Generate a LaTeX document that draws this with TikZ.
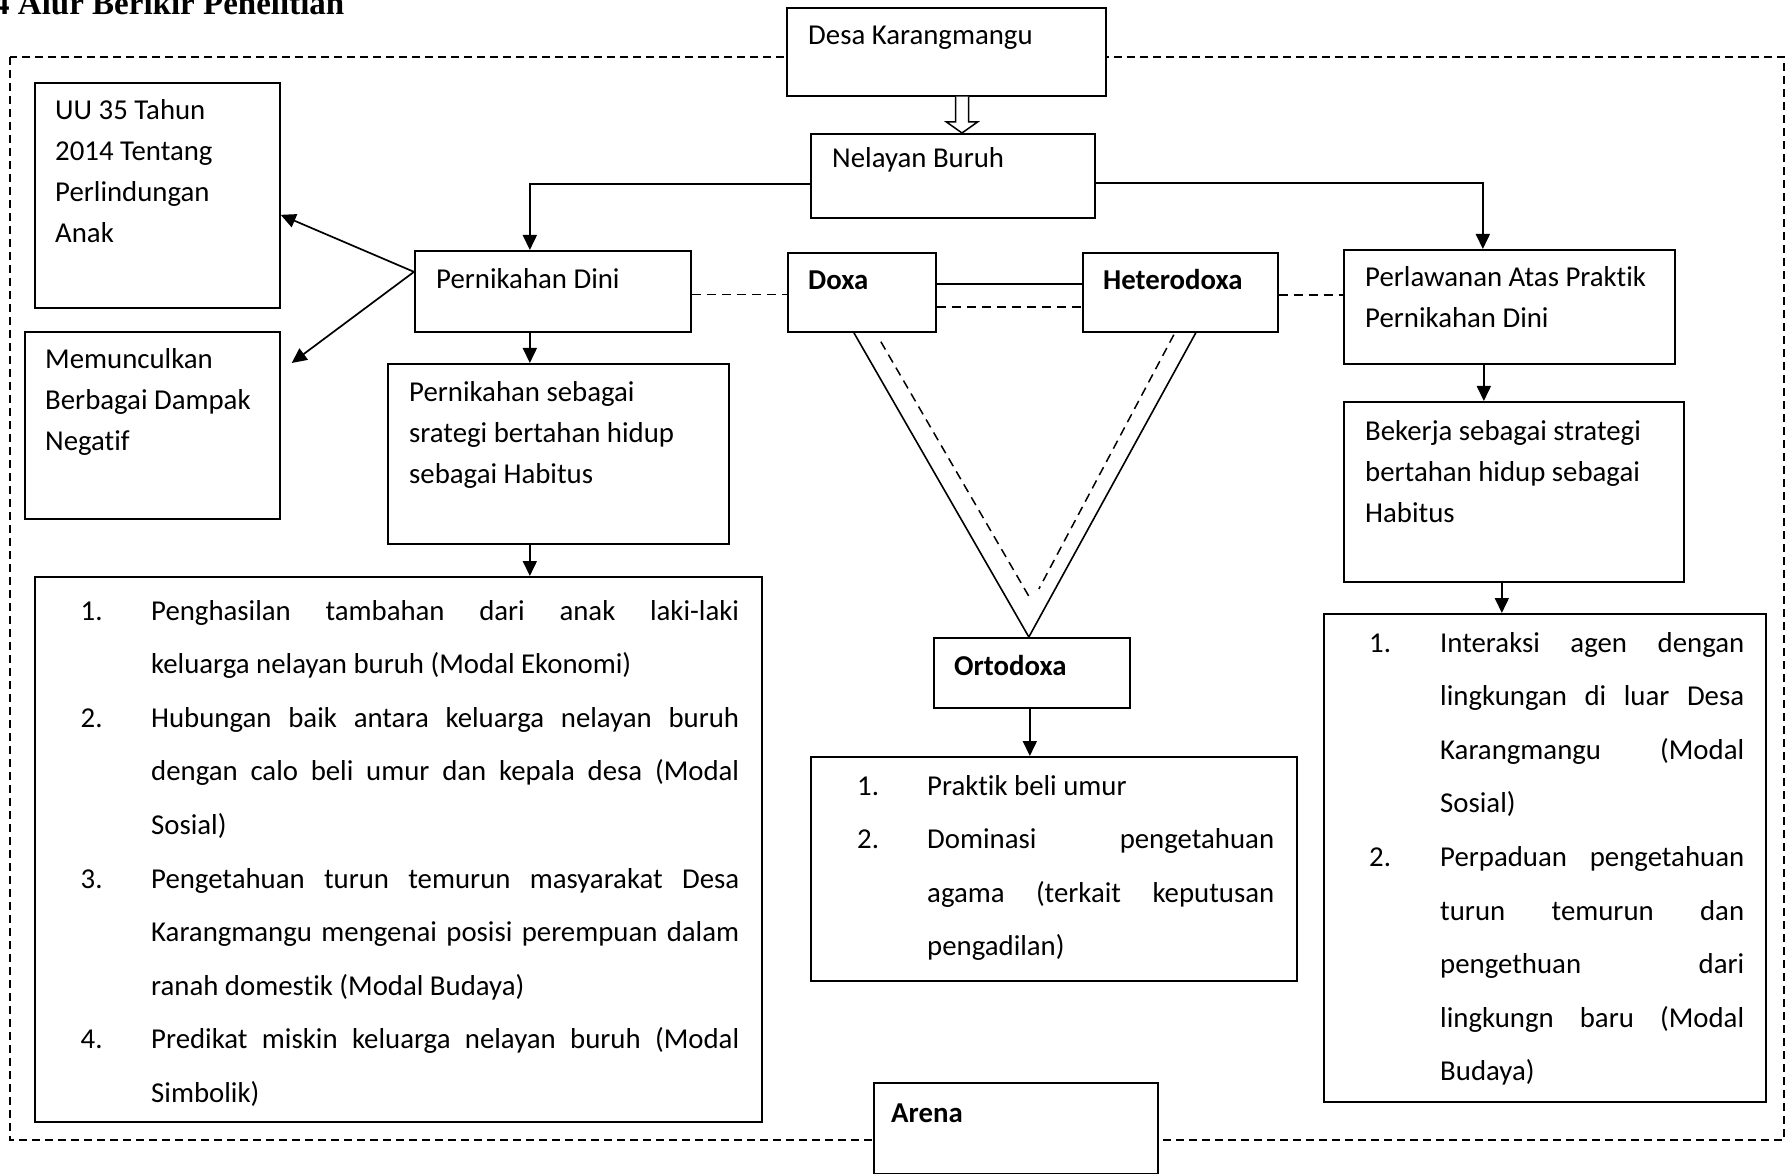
\documentclass[tikz,border=0pt]{standalone}
\usepackage{fontspec}
\setmainfont{Carlito}[RawFeature=-liga, RawFeature=-clig, RawFeature=-calt]
\newfontfamily\titlefont{Liberation Serif}
\usetikzlibrary{arrows.meta,calc}

\newcommand{\ljust}[3]{\hbox{\hspace*{#1}\makebox[#2][s]{#3}}}
\newcommand{\lrag}[2]{\hbox{\hspace*{#1}#2}}
\newcommand{\lnum}[4]{\hbox{\makebox[#1][l]{#2}\makebox[#3][s]{#4}}}
\newcommand{\lnumr}[3]{\hbox{\makebox[#1][l]{#2}#3}}
\newcommand{\plainln}[1]{\hbox{#1}}

\begin{document}
\begin{tikzpicture}[x=1pt,y=-1pt,
  box/.style={draw, fill=white, line width=1.7pt, anchor=north west, inner sep=0pt},
  txt/.style={anchor=base west, inner sep=0pt, font=\fontsize{28.8}{41}\selectfont},
  btxt/.style={anchor=base west, inner sep=0pt, font=\fontsize{28.8}{41}\selectfont\bfseries},
  lst/.style={anchor=base west, inner sep=0pt, font=\fontsize{28.8}{53.6}\selectfont},
  arr/.style={line width=1.7pt, -{Triangle[length=15pt,width=14pt]}},
  link/.style={line width=1.6pt},
  dsh/.style={line width=1.5pt, dash pattern=on 9pt off 6pt},
  frame/.style={line width=1.6pt, dash pattern=on 8pt off 5pt}]

\useasboundingbox (0,0) rectangle (1792,1174);

% title (cut off at the top, as in the source)
\node[anchor=base west, inner sep=0pt, font=\titlefont\bfseries\fontsize{33}{40}\selectfont] (title) at (-7,15) {4 Alur Berikir Penelitian};

% dashed arena frame
\draw[frame] (10,57) rectangle (1784,1140);

% boxes
\node[box, minimum width=319pt, minimum height=88pt] (desa) at (786,7) {};
\node[box, minimum width=284pt, minimum height=84pt] (nel) at (810,133) {};
\node[box, minimum width=276pt, minimum height=81pt] (pdini) at (414,250) {};
\node[box, minimum width=245pt, minimum height=225pt] (uu) at (34,82) {};
\node[box, minimum width=255pt, minimum height=187pt] (mem) at (24,331) {};
\node[box, minimum width=341pt, minimum height=180pt] (psbg) at (387,363) {};
\node[box, minimum width=727pt, minimum height=545pt] (llist) at (34,576) {};
\node[box, minimum width=148pt, minimum height=79pt] (doxa) at (787,252) {};
\node[box, minimum width=195pt, minimum height=79pt] (hetero) at (1082,252) {};
\node[box, minimum width=196pt, minimum height=70pt] (orto) at (933,637) {};
\node[box, minimum width=486pt, minimum height=224pt] (mlist) at (810,756) {};
\node[box, minimum width=331pt, minimum height=114pt] (perl) at (1343,249) {};
\node[box, minimum width=340pt, minimum height=180pt] (bek) at (1343,401) {};
\node[box, minimum width=442pt, minimum height=488pt] (rlist) at (1323,613) {};
\node[box, minimum width=284pt, minimum height=91pt] (arena) at (873,1082) {};

% texts
\node[txt] (tdesa) at (808,45) {Desa Karangmangu};
\node[txt] (tnel) at (832,168) {Nelayan Buruh};
\node[txt] (tpd) at (436,289) {Pernikahan Dini};
\node[txt] (tuu) at (55,120) {\vtop{\plainln{UU 35 Tahun}\plainln{2014 Tentang}\plainln{Perlindungan}\plainln{Anak}}};
\node[txt] (tmem) at (45,369) {\vtop{\plainln{Memunculkan}\plainln{Berbagai Dampak}\plainln{Negatif}}};
\node[txt] (tpsbg) at (409,402) {\vtop{\plainln{Pernikahan sebagai}\plainln{srategi bertahan hidup}\plainln{sebagai Habitus}}};
\node[btxt] (tdoxa) at (808,290) {Doxa};
\node[btxt] (thet) at (1103,290) {Heterodoxa};
\node[btxt] (torto) at (954,675) {Ortodoxa};
\node[btxt] (tarena) at (891,1122) {Arena};
\node[txt] (tperl) at (1365,287) {\vtop{\plainln{Perlawanan Atas Praktik}\plainln{Pernikahan Dini}}};
\node[txt] (tbek) at (1365,440) {\vtop{\plainln{Bekerja sebagai strategi}\plainln{bertahan hidup sebagai}\plainln{Habitus}}};

\node[lst] (tll) at (80.5,620) {\vtop{
 \lnum{70.5pt}{1.}{588pt}{Penghasilan tambahan dari anak laki-laki}
 \lrag{70.5pt}{keluarga nelayan buruh (Modal Ekonomi)}
 \lnum{70.5pt}{2.}{588pt}{Hubungan baik antara keluarga nelayan buruh}
 \ljust{70.5pt}{588pt}{dengan calo beli umur dan kepala desa (Modal}
 \lrag{70.5pt}{Sosial)}
 \lnum{70.5pt}{3.}{588pt}{Pengetahuan turun temurun masyarakat Desa}
 \ljust{70.5pt}{588pt}{Karangmangu mengenai posisi perempuan dalam}
 \lrag{70.5pt}{ranah domestik (Modal Budaya)}
 \lnum{70.5pt}{4.}{588pt}{Predikat miskin keluarga nelayan buruh (Modal}
 \lrag{70.5pt}{Simbolik)}}};

\node[lst] (tml) at (857,795) {\vtop{
 \lnumr{70pt}{1.}{Praktik beli umur}
 \lnum{70pt}{2.}{347pt}{Dominasi pengetahuan}
 \ljust{70pt}{347pt}{agama (terkait keputusan}
 \lrag{70pt}{pengadilan)}}};

\node[lst] (trl) at (1369,652) {\vtop{
 \lnum{71pt}{1.}{304pt}{Interaksi agen dengan}
 \ljust{71pt}{304pt}{lingkungan di luar Desa}
 \ljust{71pt}{304pt}{Karangmangu (Modal}
 \lrag{71pt}{Sosial)}
 \lnum{71pt}{2.}{304pt}{Perpaduan pengetahuan}
 \ljust{71pt}{304pt}{turun temurun dan}
 \ljust{71pt}{304pt}{pengethuan dari}
 \ljust{71pt}{304pt}{lingkungn baru (Modal}
 \lrag{71pt}{Budaya)}}};

% hollow arrow Desa -> Nelayan
\coordinate (ax) at (962,0);
\coordinate (a1) at (ax |- desa.south);
\coordinate (a2) at (ax |- nel.north);
\draw[line width=1.5pt, fill=white] ($(a1)+(-6.5,0)$) -- ($(a2)+(-6.5,-11)$) -- ($(a2)+(-15.5,-11)$) -- (a2) -- ($(a2)+(15.5,-11)$) -- ($(a2)+(6.5,-11)$) -- ($(a1)+(6.5,0)$);

% connectors
\draw[arr] ([yshift=-8pt]nel.west) -| ([xshift=-23pt]pdini.north);
\draw[arr] ([yshift=-7pt]nel.east) -| ([xshift=-26.5pt]perl.north);
\draw[arr] ([yshift=19.5pt]pdini.west) -- ([yshift=-19.5pt]uu.east);
\draw[arr] ([yshift=19.5pt]pdini.west) -- ([shift={(11pt,-32pt)}]mem.north east);

\coordinate (c1) at ([xshift=-23pt]pdini.south);
\draw[arr] (c1) -- (c1 |- psbg.north);
\coordinate (c2) at ([xshift=-28.5pt]psbg.south);
\draw[arr] (c2) -- (c2 |- llist.north);

\coordinate (c3) at ([yshift=-3pt]pdini.east);
\draw[dsh] (c3) -- (c3 -| doxa.west);
\draw[link] ([yshift=8.5pt]doxa.east) -- ([yshift=8.5pt]hetero.west);
\draw[dsh] ([yshift=-14.5pt]doxa.east) -- ([yshift=-14.5pt]hetero.west);
\coordinate (c4) at ([yshift=-2.5pt]hetero.east);
\draw[dsh] (c4) -- (c4 -| perl.west);

\coordinate (vt) at ([xshift=-3pt]orto.north);
\draw[link] ([xshift=-8pt]doxa.south) -- (vt) -- ([xshift=15.5pt]hetero.south);
\draw[dsh] ([shift={(19pt,-9pt)}]doxa.south) -- ([shift={(1pt,39pt)}]vt);
\draw[dsh] ([shift={(-6.5pt,-2pt)}]hetero.south) -- ([shift={(10pt,48pt)}]vt);

\coordinate (c5) at ([xshift=-2pt]orto.south);
\draw[arr] (c5) -- (c5 |- mlist.north);
\coordinate (c6) at ([xshift=-25.5pt]perl.south);
\draw[arr] (c6) -- (c6 |- bek.north);
\coordinate (c7) at ([xshift=-12pt]bek.south);
\draw[arr] (c7) -- (c7 |- rlist.north);

\end{tikzpicture}
\end{document}
